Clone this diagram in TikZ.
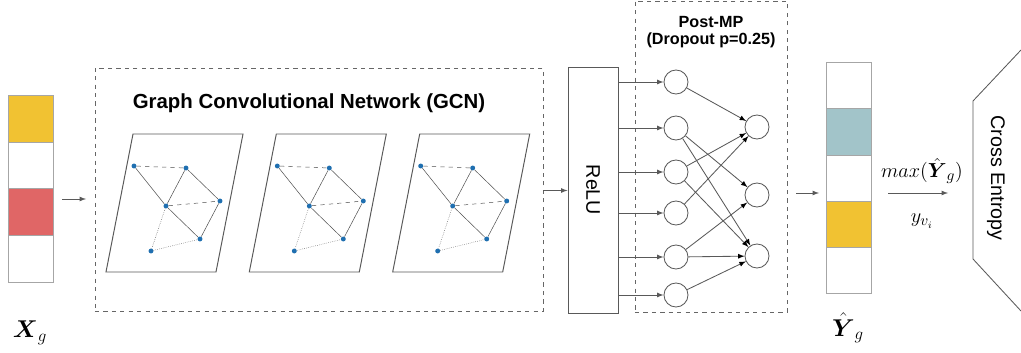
\documentclass[tikz,border=0pt]{standalone}
\usepackage{amsmath}
\usepackage{amssymb}
\usepackage{fontspec}
\setmainfont{Liberation Sans}
\usepackage{tikz}
\usetikzlibrary{arrows,shapes}
\definecolor{cyel}{HTML}{F1C232}
\definecolor{cred}{HTML}{E06666}
\definecolor{cteal}{HTML}{A2C4C9}
\definecolor{gblue}{HTML}{1F6FB0}
\tikzstyle{cell}=[draw=black!35,line width=0.6pt]
\tikzstyle{dbox}=[draw=black!60,dashed,line width=0.5pt,inner sep=0]
\tikzstyle{sbox}=[draw=black!65,line width=0.7pt,inner sep=0]
\tikzstyle{neuron}=[circle,draw=black!65,line width=0.6pt,minimum size=0.6cm,inner sep=0]
\tikzstyle{arr}=[->,>=latex,draw=black!65,line width=0.6pt]
\tikzstyle{gnode}=[circle,fill=gblue,inner sep=0,minimum size=3.5pt]
\tikzstyle{gedge}=[draw=black!70,line width=0.35pt]

\begin{document}
\begin{tikzpicture}[x=0.025cm,y=-0.025cm]
    \useasboundingbox (0,0) rectangle (1021,353);
    % input features
    \foreach \ya/\yb/\c in {95/142/cyel,142/188/white,188/235/cred,235/282/white}
      \draw[cell,fill=\c] (8,\ya) rectangle (53,\yb);
    \node (xg) at (30,333) {\fontsize{17}{20}\selectfont $\boldsymbol{X}_g$};
    \coordinate (xa) at (62,199);
    \coordinate (xb) at (86,199);
    \draw[arr] (xa) -- (xb);
    % GCN block
    \node[dbox,minimum width=11.2cm,minimum height=6.075cm] (gcn) at (319,189.5) {};
    \node (gcnt) at (309,103) {\fontsize{14.5}{17}\selectfont\bfseries Graph Convolutional Network (GCN)};
    \foreach \k/\dx in {1/0,2/143.3,3/286.7}{
      \begin{scope}[shift={(\dx,0)}]
        \draw[sbox] (133,134) -- (243,134) -- (216,272) -- (106,272) -- cycle;
        \node[gnode] (a\k) at (134,166) {};
        \node[gnode] (b\k) at (186,168) {};
        \node[gnode] (c\k) at (220,201) {};
        \node[gnode] (d\k) at (166,206) {};
        \node[gnode] (e\k) at (200,239) {};
        \node[gnode] (f\k) at (151,251) {};
        \draw[gedge,dashed] (a\k) -- (b\k);
        \draw[gedge,dashed] (d\k) -- (c\k);
        \draw[gedge] (a\k) -- (d\k) (b\k) -- (d\k) (b\k) -- (c\k)
                     (d\k) -- (e\k) (c\k) -- (e\k);
        \draw[gedge,densely dotted] (d\k) -- (f\k) -- (e\k);
      \end{scope}
    }
    % ReLU
    \node[sbox,minimum width=1.25cm,minimum height=6.125cm] (relu) at (593,190.5) {};
    \node[rotate=-90] (relut) at (593,190) {\fontsize{14}{17}\selectfont ReLU};
    \draw[arr] (relu.west -| gcn.east) -- (relu.west);
    % Post-MP
    \node[dbox,minimum width=3.8cm,minimum height=7.775cm] (postmp) at (711,156.5) {};
    \node[align=center] (postt) at (711,32) {\fontsize{11.5}{15}\selectfont\bfseries Post-MP\\
      \fontsize{11.5}{15}\selectfont\bfseries (Dropout p=0.25)};
    \foreach \i/\y in {1/82,2/128,3/172,4/213,5/257,6/295}{
      \node[neuron] (in\i) at (676,\y) {};
      \draw[arr] (relu.east |- in\i) -- (in\i);
    }
    \node[neuron] (o1) at (757,127) {};
    \node[neuron] (o2) at (757,195) {};
    \node[neuron] (o3) at (757,256) {};
    \path[arr]
      (in1) edge (o1)
      (in2) edge (o2)
            edge (o3)
      (in3) edge (o1)
            edge (o3)
      (in4) edge (o1)
      (in5) edge (o2)
            edge (o3)
      (in6) edge (o3);
    \coordinate (pa) at (796,193);
    \coordinate (pb) at (819,193);
    \draw[arr] (pa) -- (pb);
    % predictions
    \foreach \ya/\yb/\c in {62/108/white,108/155/cteal,155/201/white,201/247/cyel,247/293/white}
      \draw[cell,fill=\c] (826,\ya) rectangle (871,\yb);
    \node (yg) at (848,328) {\fontsize{17}{20}\selectfont $\hat{\boldsymbol{Y}}_g$};
    \coordinate (ma) at (888,193);
    \coordinate (mb) at (948,193);
    \draw[arr] (ma) -- (mb);
    \node (maxl) at (922,171) {\fontsize{15}{18}\selectfont $max(\hat{\boldsymbol{Y}}_g)$};
    \node (yvl) at (922,221) {\fontsize{15}{18}\selectfont $y_{v_i}$};
    % loss
    \draw[sbox,line width=0.6pt] (1021,50) -- (973,101) -- (973,259) -- (1021,311);
    \node[rotate=-90] (ce) at (996,178) {\fontsize{14}{17}\selectfont Cross Entropy};
  \end{tikzpicture}
\end{document}
